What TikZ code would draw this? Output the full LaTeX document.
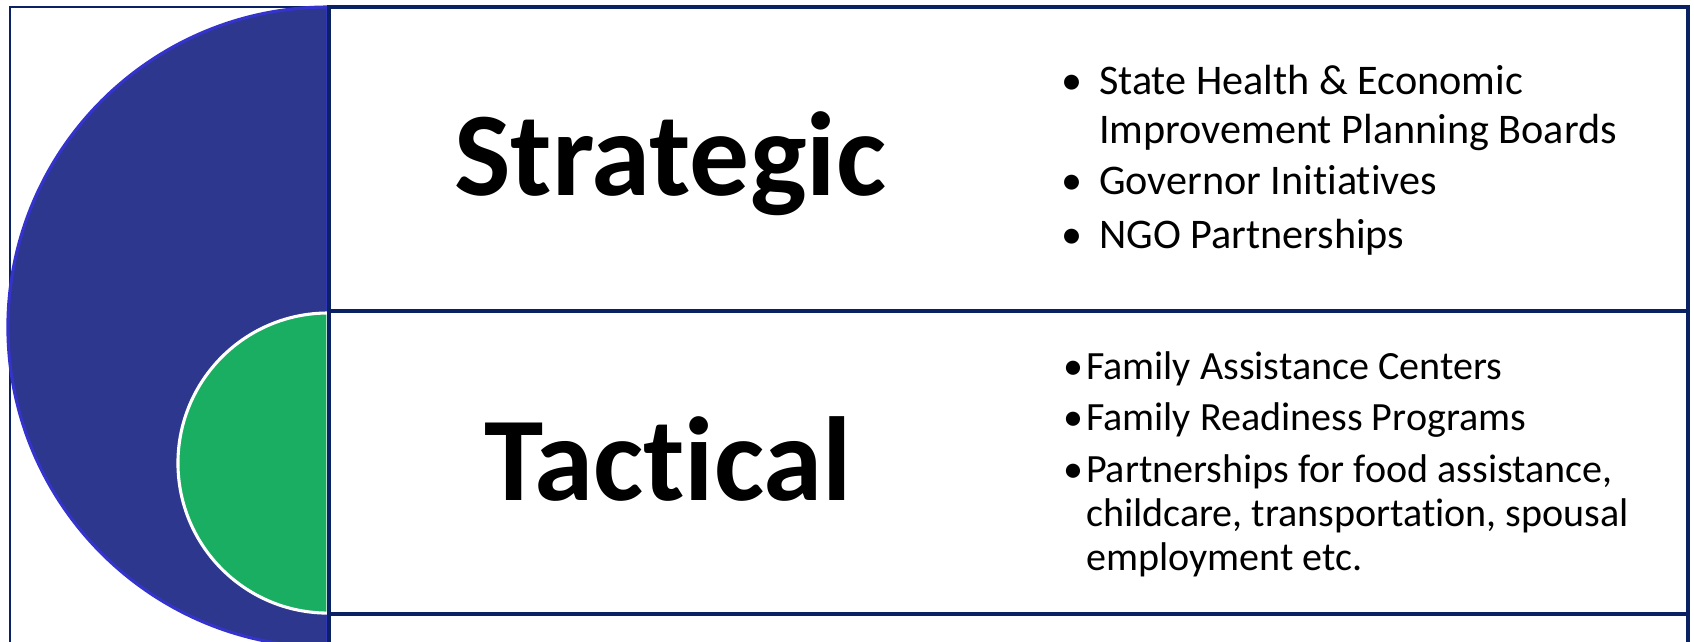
\documentclass[tikz,border=0pt]{standalone}
\usepackage{fontspec}
\setmainfont{Carlito}
\usetikzlibrary{positioning}

\definecolor{navy1}{RGB}{10,34,100}
\definecolor{blue1}{RGB}{45,55,142}
\definecolor{blue2}{RGB}{52,52,205}
\definecolor{green1}{RGB}{26,174,98}
\tikzstyle{panel} = [draw=navy1, line width=2.8pt]
\tikzstyle{title} = [font=\fontsize{85}{95}\selectfont\bfseries, anchor=base, inner sep=0pt]
\tikzstyle{list} = [anchor=base west, inner sep=0pt]
% keeps t and i apart (no ligature)
\newcommand{\nolig}{\kern0pt}

\begin{document}
\begin{tikzpicture}[x=0.025cm, y=-0.025cm]
    \useasboundingbox (0,0) rectangle (1694,641);
    \clip (0,0) rectangle (1694,641);

    % outer frame
    \draw[navy1, line width=1.2pt] (10,7) rectangle (1688,700);

    % half discs
    \draw[fill=blue1, draw=blue2, line width=2.2pt] (328,7)
        arc[start angle=90, end angle=270, radius=8cm] -- cycle;
    \draw[fill=green1, draw=white, line width=2.2pt] (328,313)
        arc[start angle=90, end angle=270, radius=3.75cm] -- cycle;

    % panels
    \draw[panel] (329,7) rectangle (1688,311);
    \draw[panel] (329,311) rectangle (1688,614);
    \draw[panel] (329,614) rectangle (1688,700);

    % titles
    \node[title] (strat) at (670,195) {Strategic};
    \node[title] (tact) at (668,500) {Tact\nolig ical};

    % bullet lists
    \node[list] (stratlist) at (1061,94) {\fontsize{30}{34.9}\selectfont
        \begin{tabular}[t]{@{}l@{\hspace{12pt}}l@{}}
        \textbullet & State Health \& Economic\\
                    & Improvement Planning Boards\\[2pt]
        \textbullet & Governor Init\nolig iat\nolig ives\\[3pt]
        \textbullet & NGO Partnerships
        \end{tabular}};
    \node[list] (tactlist) at (1063,379) {\fontsize{28.5}{31.3}\selectfont
        \begin{tabular}[t]{@{}l@{\hspace{2pt}}l@{}}
        \textbullet & Family Assistance Centers\\[5.5pt]
        \textbullet & Family Readiness Programs\\[5.5pt]
        \textbullet & Partnerships for food assistance,\\
                    & childcare, transportat\nolig ion, spousal\\
                    & employment etc.
        \end{tabular}};
\end{tikzpicture}
\end{document}
